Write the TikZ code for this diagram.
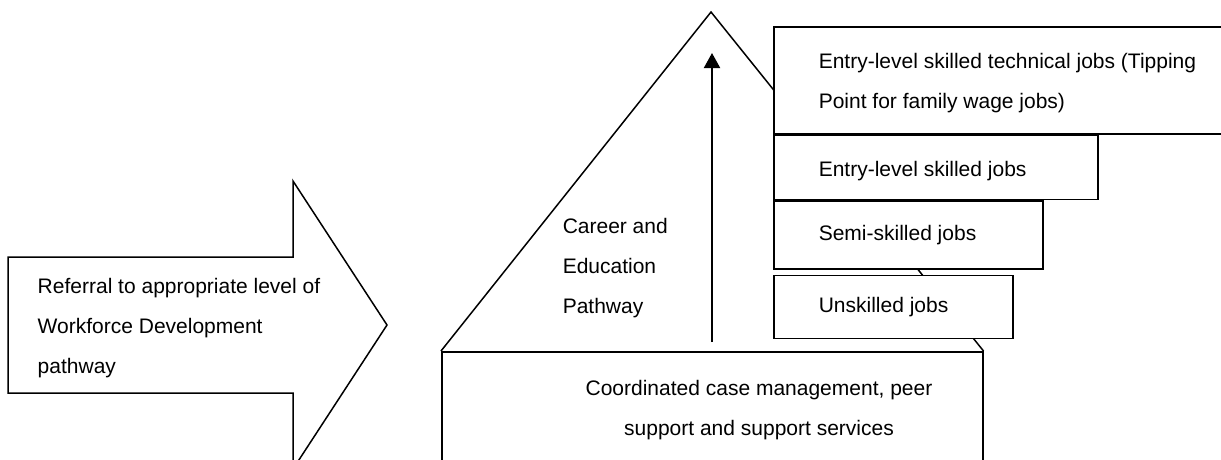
\documentclass[tikz,border=0pt]{standalone}
\usepackage{fontspec}
\setmainfont{Liberation Sans}
\usetikzlibrary{arrows.meta,positioning}

\tikzset{
  jobbox/.style={draw, fill=white, anchor=north west, inner sep=0pt},
  txt/.style={font=\fontsize{21}{40}\selectfont, inner sep=0pt, align=left, anchor=base west},
}

\begin{document}
\begin{tikzpicture}[x=1pt,y=-1pt,line width=1.5pt]
		\useasboundingbox (0,0) rectangle (1221,459);
		\clip (0,0) rectangle (1221,459);
		\draw (8,257) -- (293,257) -- (293,181) -- (387,325) -- (293,469) -- (293,393) -- (8,393) -- cycle;
		\node[txt] (referral) at (37,373) {Referral to appropriate level of\\Workforce Development\\pathway};
		\coordinate (apex) at (711,12);
		\node[draw, anchor=north west, minimum width=541pt, minimum height=140pt, inner sep=0pt] (base) at (441,351) {};
		\draw (base.north west) -- (apex) -- (base.north east);
		\node[jobbox, minimum width=460pt, minimum height=107pt] (jobA) at (773,26) {};
		\node[jobbox, minimum width=324pt, minimum height=64pt] (jobB) at (jobA.south west) {};
		\node[jobbox, minimum width=269pt, minimum height=68pt] (jobC) at (jobB.south west) {};
		\node[jobbox, minimum width=239pt, minimum height=63pt] (jobD) at ([yshift=-5pt]jobC.south west) {};
		\node[txt] (jobAtext) at (818,108) {Entry-level skilled technical jobs (Tipping\\Point for family wage jobs)};
		\node[txt] (jobBtext) at (818,176) {Entry-level skilled jobs};
		\node[txt] (jobCtext) at (818,240) {Semi-skilled jobs};
		\node[txt] (jobDtext) at (818,312) {Unskilled jobs};
		\node[txt] (pathway) at (562,313) {Career and\\Education\\Pathway};
		\node[txt, align=center, anchor=base] (support) at (759,435) {Coordinated case management, peer\\support and support services};
		\coordinate (climbStart) at (712,342);
		\coordinate (climbEnd) at (712,53);
		\draw[line width=2pt, -{Triangle[length=15pt,width=16pt]}] (climbStart) -- (climbEnd);
	\end{tikzpicture}
\end{document}
